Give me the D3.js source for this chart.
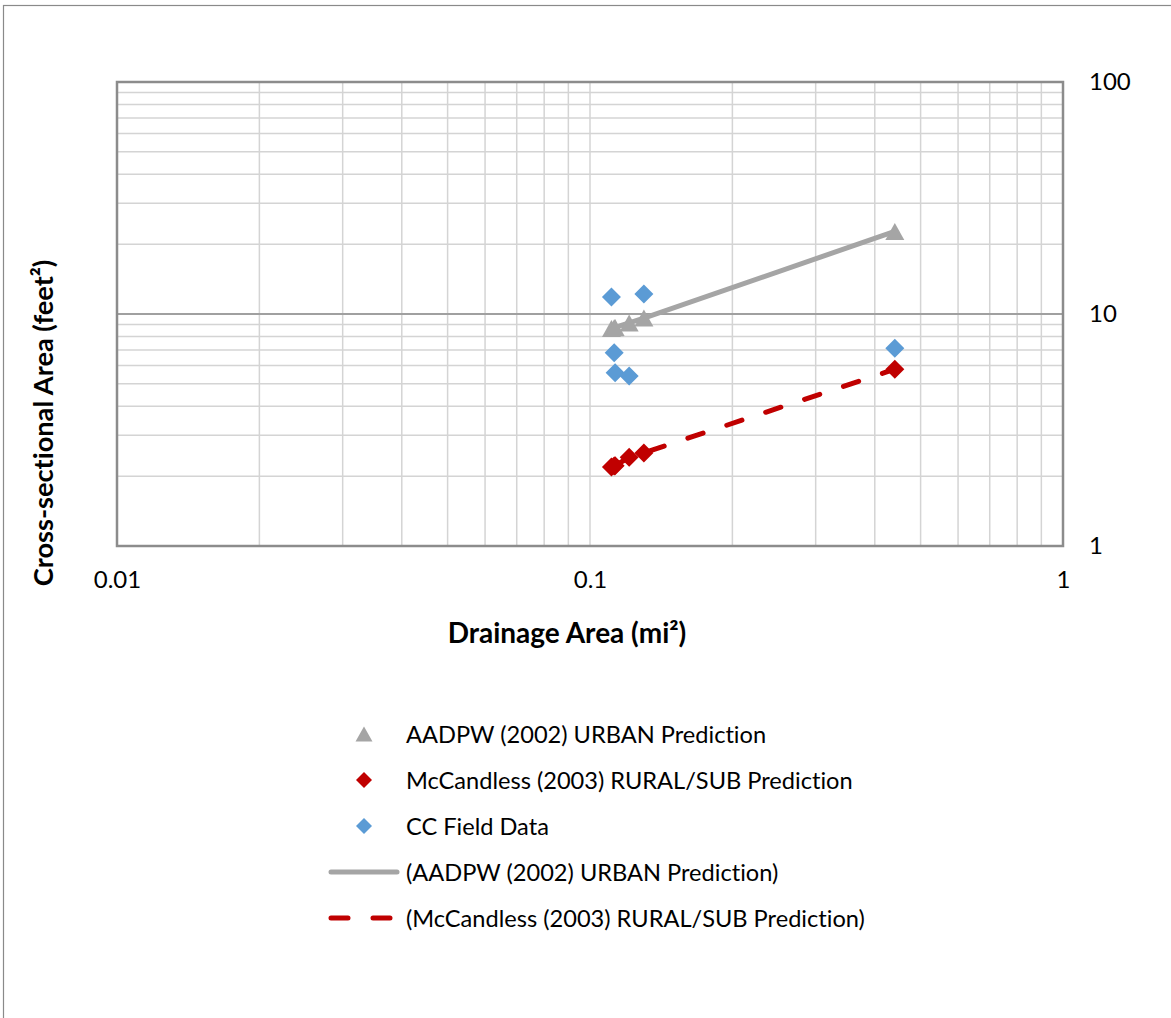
<!DOCTYPE html>
<html>
<head>
<meta charset="utf-8">
<script src="https://cdn.jsdelivr.net/npm/d3@7"></script>
<style>
  body { margin: 0; background: #fff; }
  text { font-family: "Lato", "Liberation Sans", sans-serif; fill: #000; font-variant-ligatures: none; }
</style>
</head>
<body>
<script>
// drainage area of each site (mi2) and the cross-sectional areas (ft2)
const siteArea = [0.111, 0.1125, 0.113, 0.121, 0.130, 0.441];
const urbanPrediction = [8.65, 8.72, 8.75, 9.15, 9.6, 22.7];
const ruralPrediction = [2.19, 2.21, 2.22, 2.41, 2.52, 5.78];
const fieldData = [11.85, 6.81, 5.58, 5.40, 12.2, 7.11];

const xTickValues = [0.01, 0.1, 1];
const yTickValues = [1, 10, 100];

const legendLabels = [
    "AADPW (2002) URBAN Prediction",
    "McCandless (2003) RURAL/SUB Prediction",
    "CC Field Data",
    "(AADPW (2002) URBAN Prediction)",
    "(McCandless (2003) RURAL/SUB Prediction)"
];

const width = 1171, height = 1018;
const plot = { left: 117, right: 1063, top: 82, bottom: 546 };

const svg = d3.select("body").append("svg")
    .attr("width", width)
    .attr("height", height);

// outer chart frame (only left and top edges are in view)
svg.append("rect")
    .attr("x", 3.5).attr("y", 5.5)
    .attr("width", 1300).attr("height", 1200)
    .attr("fill", "none")
    .attr("stroke", "#8a8a8a")
    .attr("stroke-width", 1.2);

const x = d3.scaleLog().domain([0.01, 1]).range([plot.left, plot.right]);
const y = d3.scaleLog().domain([1, 100]).range([plot.bottom, plot.top]);

// gridlines
const grid = svg.append("g");
grid.selectAll(".vgrid")
    .data(x.ticks())
    .enter().append("line")
    .attr("x1", d => x(d)).attr("x2", d => x(d))
    .attr("y1", plot.top).attr("y2", plot.bottom)
    .style("stroke", "#d4d4d4")
    .style("stroke-width", 1.5);

grid.selectAll(".hgrid")
    .data(y.ticks())
    .enter().append("line")
    .attr("x1", plot.left).attr("x2", plot.right)
    .attr("y1", d => y(d)).attr("y2", d => y(d))
    .style("stroke", d => d === 10 ? "#a0a0a0" : "#d4d4d4")
    .style("stroke-width", d => d === 10 ? 2 : 1.5);

// plot border
svg.append("rect")
    .attr("x", plot.left).attr("y", plot.top)
    .attr("width", plot.right - plot.left)
    .attr("height", plot.bottom - plot.top)
    .attr("fill", "none")
    .attr("stroke", "#8c8c8c")
    .attr("stroke-width", 2.5);

// axes (labels only)
const xAxis = svg.append("g")
    .attr("transform", "translate(0," + plot.bottom + ")")
    .call(d3.axisBottom(x).tickValues(xTickValues).tickSize(0).tickPadding(25).tickFormat(d => String(d)));
const yAxis = svg.append("g")
    .attr("transform", "translate(" + plot.right + ",0)")
    .call(d3.axisRight(y).tickValues(yTickValues).tickSize(0).tickPadding(26).tickFormat(d => String(d)));
[xAxis, yAxis].forEach(a => {
    a.select(".domain").remove();
    a.selectAll("text")
        .style("font-family", "Lato")
        .style("font-size", "24px")
        .attr("fill", "#000");
});

// axis titles
svg.append("text")
    .attr("transform", "translate(53,423) rotate(-90)")
    .attr("text-anchor", "middle")
    .style("font-size", "27.2px")
    .style("font-weight", "bold")
    .text("Cross-sectional Area (feet\u00b2)");

svg.append("text")
    .attr("x", 567).attr("y", 643)
    .attr("text-anchor", "middle")
    .style("font-size", "28px")
    .style("font-weight", "bold")
    .text("Drainage Area (mi\u00b2)");

// marker shapes
const triangle = (w, h) => "M0," + (-h / 2) + "L" + (w / 2) + "," + (h / 2) + "L" + (-w / 2) + "," + (h / 2) + "Z";
const diamond = r => "M0," + (-r) + "L" + r + ",0L0," + r + "L" + (-r) + ",0Z";

const urbanPts = siteArea.map((a, i) => [a, urbanPrediction[i]]);
const ruralPts = siteArea.map((a, i) => [a, ruralPrediction[i]]);
const fieldPts = siteArea.map((a, i) => [a, fieldData[i]]);

const line = d3.line().x(d => x(d[0])).y(d => y(d[1]));

// prediction lines
svg.append("path")
    .datum(urbanPts)
    .attr("d", line)
    .attr("fill", "none")
    .style("stroke", "#a5a5a5")
    .style("stroke-width", 5)
    .style("stroke-linecap", "round");

svg.append("path")
    .datum(ruralPts)
    .attr("d", line)
    .attr("fill", "none")
    .style("stroke", "#c00000")
    .style("stroke-width", 5)
    .style("stroke-linecap", "round")
    .style("stroke-dasharray", "16,25");

// markers
svg.selectAll(".urban")
    .data(urbanPts)
    .enter().append("path")
    .attr("transform", d => "translate(" + x(d[0]) + "," + y(d[1]) + ")")
    .attr("d", triangle(19, 17))
    .style("fill", "#a5a5a5");

svg.selectAll(".rural")
    .data(ruralPts)
    .enter().append("path")
    .attr("transform", d => "translate(" + x(d[0]) + "," + y(d[1]) + ")")
    .attr("d", diamond(9.5))
    .style("fill", "#c00000");

svg.selectAll(".field")
    .data(fieldPts)
    .enter().append("path")
    .attr("transform", d => "translate(" + x(d[0]) + "," + y(d[1]) + ")")
    .attr("d", diamond(9.5))
    .style("fill", "#5b9bd5");

// legend
const legend = svg.append("g");
const rowY = i => 734 + i * 46;

legend.append("path")
    .attr("transform", "translate(364," + rowY(0) + ")")
    .attr("d", triangle(17, 15))
    .style("fill", "#a5a5a5");
legend.append("path")
    .attr("transform", "translate(364," + rowY(1) + ")")
    .attr("d", diamond(8))
    .style("fill", "#c00000");
legend.append("path")
    .attr("transform", "translate(364," + rowY(2) + ")")
    .attr("d", diamond(8))
    .style("fill", "#5b9bd5");
legend.append("line")
    .attr("x1", 331).attr("x2", 397)
    .attr("y1", rowY(3)).attr("y2", rowY(3))
    .style("stroke", "#a5a5a5")
    .style("stroke-width", 5)
    .style("stroke-linecap", "round");
legend.append("line")
    .attr("x1", 331).attr("x2", 397)
    .attr("y1", rowY(4)).attr("y2", rowY(4))
    .style("stroke", "#c00000")
    .style("stroke-width", 5)
    .style("stroke-linecap", "round")
    .style("stroke-dasharray", "17,25");

legend.selectAll(".label")
    .data(legendLabels)
    .enter().append("text")
    .attr("x", 406)
    .attr("y", (d, i) => rowY(i) + 9)
    .style("font-size", "23.6px")
    .text(d => d);
</script>
</body>
</html>
